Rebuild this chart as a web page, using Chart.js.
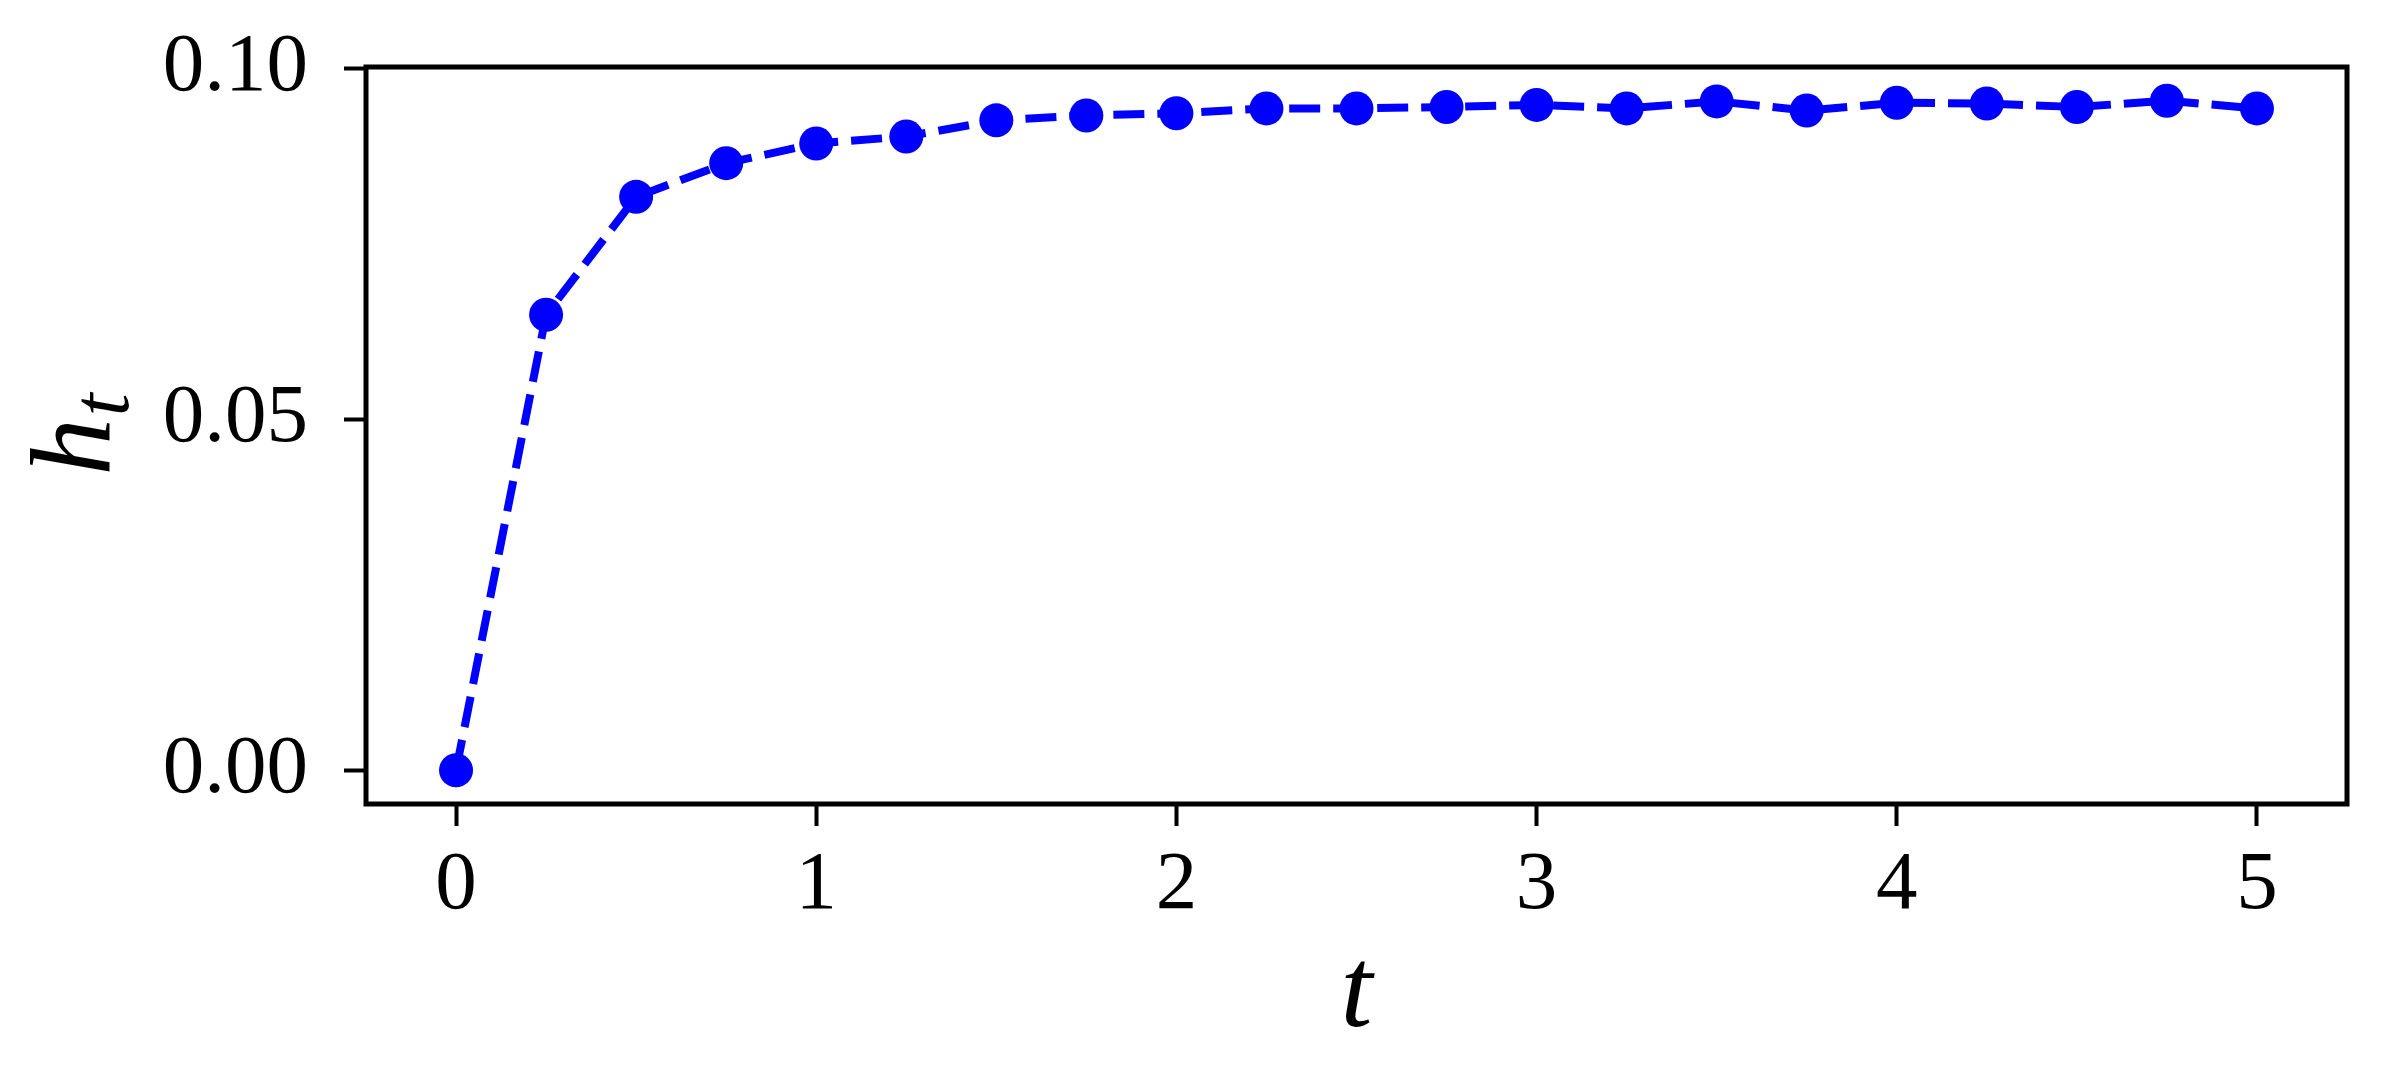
<!DOCTYPE html>
<html>
<head>
<meta charset="utf-8">
<script src="https://cdn.jsdelivr.net/npm/chart.js@4.4.1/dist/chart.umd.min.js"></script>
<style>
  html, body { margin: 0; padding: 0; background: #fff; }
  #wrap { width: 2388px; height: 1090px; }
</style>
</head>
<body>
<div id="wrap"><canvas id="myChart" width="2388" height="1090"></canvas></div>
<script>
/*--data--*/
var tValues = [0, 0.25, 0.5, 0.75, 1, 1.25, 1.5, 1.75, 2, 2.25, 2.5, 2.75, 3, 3.25, 3.5, 3.75, 4, 4.25, 4.5, 4.75, 5];
var hValues = [0, 0.0649, 0.0817, 0.0865, 0.0893, 0.0903, 0.0926, 0.0933, 0.0936, 0.0943, 0.0943, 0.0945, 0.0948, 0.0943, 0.0953, 0.0940, 0.0951, 0.0950, 0.0945, 0.0954, 0.0943];
var xTicks = [0, 1, 2, 3, 4, 5];
var yTicks = [0, 0.05, 0.10];

var serif = "'Liberation Serif', 'DejaVu Serif', serif";

var points = tValues.map(function (t, i) { return { x: t, y: hValues[i] }; });

/*--frame + y title (h with subscript t)--*/
var framePlugin = {
  id: 'frame',
  afterDraw: function (chart) {
    var c = chart.ctx, a = chart.chartArea;
    c.save();
    c.strokeStyle = '#000';
    c.lineWidth = 5;
    c.strokeRect(a.left, a.top, a.right - a.left, a.bottom - a.top);
    // y axis title
    c.translate(110, (a.top + a.bottom) / 2);
    c.rotate(-Math.PI / 2);
    c.fillStyle = '#000';
    c.textBaseline = 'alphabetic';
    c.textAlign = 'left';
    c.font = 'italic 115px ' + serif;
    var hw = c.measureText('h').width;
    var sw;
    c.font = 'italic 82px ' + serif;
    sw = c.measureText('t').width;
    var x0 = -(hw + sw) / 2;
    c.font = 'italic 115px ' + serif;
    c.fillText('h', x0, 0);
    c.font = 'italic 82px ' + serif;
    c.fillText('t', x0 + hw + 2, 18);
    c.restore();
  }
};

var ctx = document.getElementById("myChart").getContext('2d');
var myChart = new Chart(ctx, {
  type: 'line',
  plugins: [framePlugin],
  data: {
    datasets: [{
      label: 'h_t',
      data: points,
      borderColor: '#0000ff',
      backgroundColor: '#0000ff',
      borderWidth: 8,
      borderDash: [31, 13],
      pointRadius: 17,
      pointBorderWidth: 0,
      pointBackgroundColor: '#0000ff',
      tension: 0,
      fill: false
    }]
  },
  options: {
    responsive: false,
    animation: false,
    devicePixelRatio: 1,
    layout: { padding: { left: 0, top: 67, right: 41, bottom: 0 } },
    plugins: { legend: { display: false }, tooltip: { enabled: false } },
    scales: {
      x: {
        type: 'linear',
        min: -0.25,
        max: 5.25,
        afterBuildTicks: function (s) { s.ticks = xTicks.map(function (v) { return { value: v }; }); },
        afterFit: function (s) { s.height = 286; s.paddingLeft = 0; s.paddingRight = 0; },
        grid: { drawOnChartArea: false, tickLength: 22, tickWidth: 4, tickColor: '#000' },
        border: { display: false },
        ticks: {
          color: '#000',
          padding: 10,
          maxRotation: 0,
          font: { family: serif, size: 83 },
          callback: function (v) { return String(v); }
        },
        title: {
          display: true,
          text: 't',
          color: '#000',
          font: { family: serif, size: 115, style: 'italic' },
          padding: { top: 0, bottom: 25 }
        }
      },
      y: {
        type: 'linear',
        min: -0.0048,
        max: 0.1002,
        afterBuildTicks: function (s) { s.ticks = yTicks.map(function (v) { return { value: v }; }); },
        afterFit: function (s) { s.width = 366; s.paddingTop = 0; s.paddingBottom = 0; },
        grid: { drawOnChartArea: false, tickLength: 22, tickWidth: 4, tickColor: '#000' },
        border: { display: false },
        ticks: {
          color: '#000',
          padding: 36,
          font: { family: serif, size: 83 },
          callback: function (v) { return v.toFixed(2); }
        }
      }
    }
  }
});
</script>
</body>
</html>
